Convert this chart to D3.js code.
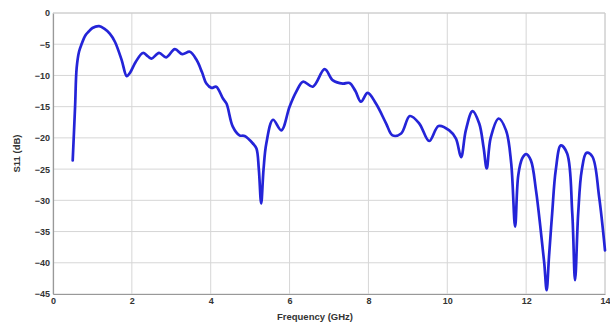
<!DOCTYPE html>
<html><head><meta charset="utf-8">
<script src="https://cdn.jsdelivr.net/npm/d3@7"></script>
<style>body{margin:0;background:#fff}svg{display:block}</style>
</head><body>
<svg id="c" width="610" height="327"></svg>
<script>
const freq = [0.5,0.56,0.6,0.66,0.73,0.82,0.9,1.0,1.17,1.3,1.44,1.57,1.74,1.87,1.95,2.1,2.28,2.4,2.5,2.69,2.87,3.09,3.28,3.47,3.64,3.78,3.89,4.02,4.14,4.31,4.4,4.56,4.73,4.86,5.07,5.16,5.22,5.28,5.34,5.41,5.58,5.79,6.0,6.17,6.34,6.59,6.89,7.1,7.35,7.52,7.67,7.81,7.98,8.19,8.45,8.61,8.83,9.05,9.29,9.54,9.78,10.05,10.22,10.35,10.47,10.64,10.81,10.92,11.0,11.1,11.3,11.49,11.62,11.72,11.8,11.9,12.0,12.12,12.25,12.37,12.46,12.52,12.58,12.66,12.75,12.88,13.04,13.17,13.24,13.32,13.41,13.53,13.68,13.85,14.0];
const s11 = [-23.6,-15,-8.8,-6.2,-4.9,-3.6,-3.0,-2.4,-2.1,-2.5,-3.3,-4.6,-7.5,-10.1,-9.6,-7.8,-6.4,-6.9,-7.3,-6.4,-7.1,-5.8,-6.6,-6.2,-7.5,-9.5,-11.3,-12.0,-11.8,-13.7,-14.5,-18.2,-19.6,-19.7,-20.9,-21.7,-25,-30.5,-25,-20.9,-17.1,-18.8,-15,-12.6,-11.0,-11.8,-9.0,-10.8,-11.3,-11.2,-12.5,-14.2,-12.8,-14.5,-17.7,-19.6,-19.3,-16.5,-17.7,-20.5,-18.1,-18.8,-20.1,-23.1,-18.8,-15.7,-17.7,-21.5,-24.9,-20,-16.9,-18.8,-24,-34.2,-26,-23.3,-22.6,-23.6,-28.4,-34.8,-40.1,-44.4,-39,-32.1,-25.2,-21.2,-22.5,-32.1,-42.8,-32.1,-25.2,-22.4,-23,-29.4,-38];
const xTicks = [0,2,4,6,8,10,12,14];
const yTicks = [0,-5,-10,-15,-20,-25,-30,-35,-40,-45];
const xTitle = "Frequency (GHz)";
const yTitle = "S11 (dB)";

const svg = d3.select("#c");
const L=53,R=605,T=13,B=294;
const x = d3.scaleLinear().domain([0,14]).range([L,R]);
const y = d3.scaleLinear().domain([-45,0]).range([B,T]);
const font = "'Liberation Sans', Arial, sans-serif";

const g = svg.append("g");
g.selectAll(".gx").data(xTicks).enter().append("line")
 .attr("x1",d=>x(d)).attr("x2",d=>x(d)).attr("y1",T).attr("y2",B)
 .attr("stroke","#d6d6d6").attr("stroke-width",1);
g.selectAll(".gy").data(yTicks).enter().append("line")
 .attr("y1",d=>y(d)).attr("y2",d=>y(d)).attr("x1",L).attr("x2",R)
 .attr("stroke","#d6d6d6").attr("stroke-width",1);

const xa = svg.append("g").attr("transform",`translate(0,${B})`)
 .call(d3.axisBottom(x).tickValues(xTicks).tickSize(0).tickPadding(4));
const ya = svg.append("g").attr("transform",`translate(${L},0)`)
 .call(d3.axisLeft(y).tickValues(yTicks).tickSize(0).tickPadding(3));
[xa,ya].forEach(a=>{
  a.select(".domain").attr("stroke","#999").attr("stroke-width",1.2);
  a.selectAll("text").attr("font-family",font).attr("font-size",9).attr("font-weight","bold").attr("fill","#333");
});
svg.append("line").attr("x1",L).attr("x2",R).attr("y1",T).attr("y2",T).attr("stroke","#ccc");
svg.append("line").attr("x1",R).attr("x2",R).attr("y1",T).attr("y2",B).attr("stroke","#ccc");

const line = d3.line().x((d,i)=>x(freq[i])).y(d=>y(d)).curve(d3.curveCatmullRom.alpha(0.5));
svg.append("path").datum(s11).attr("d",line)
 .attr("fill","none").attr("stroke","#2424d8").attr("stroke-width",2.7)
 .attr("stroke-linejoin","round").attr("stroke-linecap","round");

svg.append("text").attr("x",(L+R)/2 - 14).attr("y",320).attr("text-anchor","middle")
 .attr("font-family",font).attr("font-size",9.5).attr("font-weight","bold").attr("fill","#333").text(xTitle);
svg.append("text").attr("transform",`translate(20,${(T+B)/2}) rotate(-90)`).attr("text-anchor","middle")
 .attr("font-family",font).attr("font-size",9.5).attr("font-weight","bold").attr("fill","#333").text(yTitle);
</script>
</body></html>
